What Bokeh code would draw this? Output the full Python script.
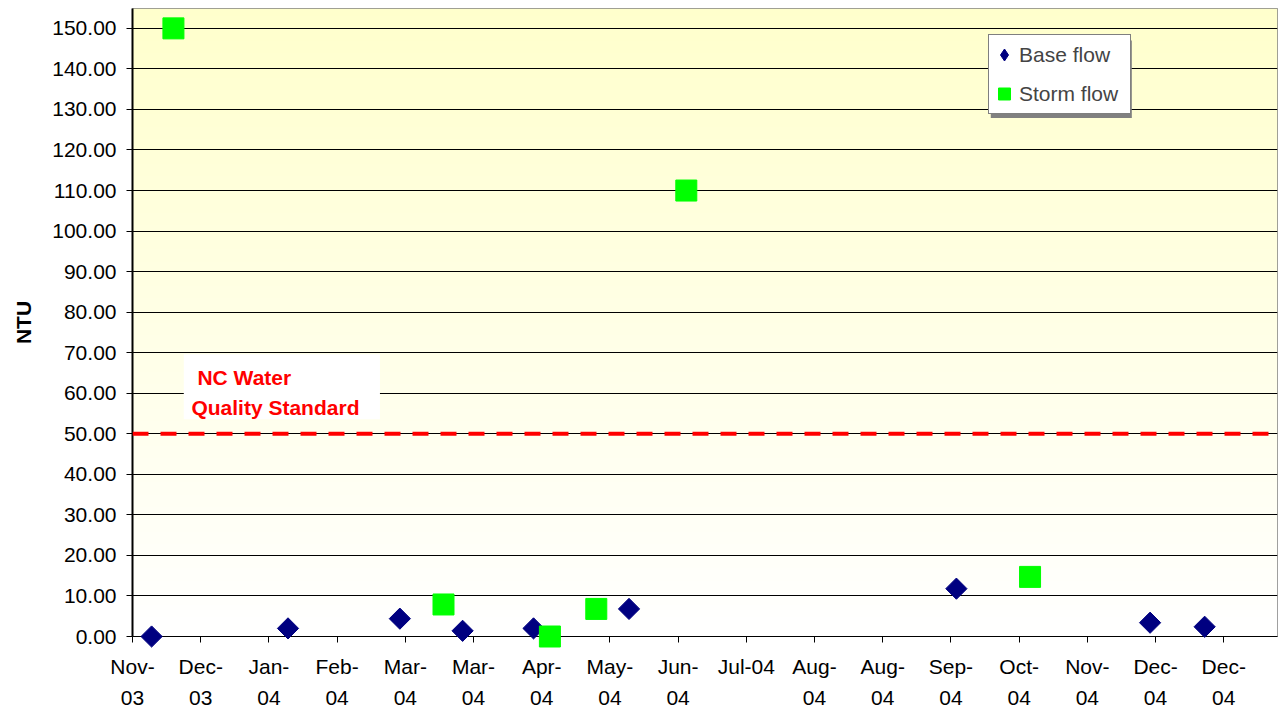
import numpy as np
import pandas as pd
from bokeh.plotting import figure
from bokeh.models import (Range1d, FixedTicker, NumeralTickFormatter, Span, Label,
                          BoxAnnotation, Legend, LegendItem)
from bokeh.embed import file_html
from bokeh.resources import INLINE

# ---------------- data ----------------
AXIS_START = "2003-11-25"          # first category-axis tick date
TICK_STEP_DAYS = 25                # Excel date-axis major unit
AXIS_END_DAYS = 419.7
tick_labels = ["Nov-\n03", "Dec-\n03", "Jan-\n04", "Feb-\n04", "Mar-\n04", "Mar-\n04",
               "Apr-\n04", "May-\n04", "Jun-\n04", "Jul-04", "Aug-\n04", "Aug-\n04",
               "Sep-\n04", "Oct-\n04", "Nov-\n04", "Dec-\n04", "Dec-\n04"]

base_dates = ["2003-12-02", "2004-01-21", "2004-03-02", "2004-03-25", "2004-04-20",
              "2004-05-25", "2004-09-22", "2004-12-02", "2004-12-22"]
base_ntu = [0.0, 2.0, 4.4, 1.4, 2.0, 6.8, 11.8, 3.4, 2.4]

storm_dates = ["2003-12-10", "2004-03-18", "2004-04-26", "2004-05-13", "2004-06-15",
               "2004-10-19"]
storm_ntu = [150.0, 7.9, 0.0, 6.8, 110.0, 14.7]

y_ticks = list(range(0, 151, 10))
Y_MAX = 154.9
standard_ntu = 50
standard_text = ["NC Water", "Quality Standard"]

# ---------------- helpers ----------------
start = pd.Timestamp(AXIS_START)
def to_days(dates):
    return [(pd.Timestamp(d) - start).days for d in dates]

base_x = to_days(base_dates)
storm_x = to_days(storm_dates)
x_ticks = [i * TICK_STEP_DAYS for i in range(len(tick_labels))]

FONT = "Liberation Sans"
FS = "21px"

p = figure(width=1278, height=711, output_backend="svg", toolbar_location=None,
           title=None,
           x_range=Range1d(0, AXIS_END_DAYS), y_range=Range1d(0, Y_MAX),
           min_border_left=132, min_border_right=1, min_border_top=8,
           min_border_bottom=73)

p.background_fill_color = "white"
p.border_fill_color = "white"
p.outline_line_color = "#808080"
p.outline_line_width = 1

# gradient background (light yellow at top -> white at bottom)
n = 256
img = np.zeros((n, 1), dtype=np.uint32)
view = img.view(dtype=np.uint8).reshape((n, 1, 4))
t = np.linspace(0, 1, n)
view[:, 0, 0] = 255
view[:, 0, 1] = 255
view[:, 0, 2] = np.round(255 - 51 * t).astype(np.uint8)
view[:, 0, 3] = 255
p.image_rgba(image=[img], x=0, y=0, dw=AXIS_END_DAYS, dh=Y_MAX, level="image")

# grid
p.xgrid.visible = False
p.ygrid.grid_line_color = "black"
p.ygrid.grid_line_width = 1

# axes
p.xaxis.ticker = FixedTicker(ticks=x_ticks)
p.xaxis.major_label_overrides = {x: lab for x, lab in zip(x_ticks, tick_labels)}
p.yaxis.ticker = FixedTicker(ticks=y_ticks)
p.yaxis.formatter = NumeralTickFormatter(format="0.00")

for ax in (p.xaxis[0], p.yaxis[0]):
    ax.axis_line_color = "black"
    ax.major_tick_line_color = "black"
    ax.major_tick_out = 6
    ax.major_tick_in = 0
    ax.minor_tick_line_color = None
    ax.major_label_text_font = FONT
    ax.major_label_text_font_size = FS
    ax.major_label_text_color = "black"
p.yaxis.axis_line_width = 2
p.xaxis.major_label_standoff = 12
p.xaxis.major_label_text_line_height = 1.35
p.yaxis.major_label_standoff = 10

p.yaxis.axis_label = "NTU"
p.yaxis.axis_label_text_font = FONT
p.yaxis.axis_label_text_font_size = FS
p.yaxis.axis_label_text_font_style = "bold"
p.yaxis.axis_label_text_color = "black"
p.yaxis.axis_label_standoff = 14

# standard line and its label
p.add_layout(Span(location=standard_ntu, dimension="width", line_color="#FF0000",
                  line_width=4, line_dash="16 12"))
p.add_layout(BoxAnnotation(left=18.8, right=90.7, bottom=53.6, top=69.6,
                           fill_color="white", fill_alpha=1, line_color=None))
p.add_layout(Label(x=23.8, y=63.9, text=standard_text[0], text_font=FONT,
                   text_font_size=FS, text_font_style="bold", text_color="#FF0000",
                   text_baseline="alphabetic"))
p.add_layout(Label(x=21.6, y=56.55, text=standard_text[1], text_font=FONT,
                   text_font_size=FS, text_font_style="bold", text_color="#FF0000",
                   text_baseline="alphabetic"))

# data
r_base = p.scatter(base_x, base_ntu, marker="square", angle=np.pi / 4, size=15,
                   fill_color="#000080", line_color="#000080", level="overlay")
r_storm = p.scatter(storm_x, storm_ntu, marker="square", size=21,
                    fill_color="#00FF00", line_color="#00FF00", level="overlay")

# legend key proxies (legend glyphs ignore the marker angle); their single
# point lies outside the visible ranges so only the legend key is drawn
k_base = p.scatter([-1000], [-1000], marker="diamond", fill_color="#000080",
                   line_color="#000080")
k_storm = p.scatter([-1000], [-1000], marker="square", fill_color="#00FF00",
                    line_color="#00FF00")

# legend shadow + legend
p.add_layout(BoxAnnotation(left=314.6, right=366.3, bottom=127.9, top=147.0,
                           fill_color="#808080", fill_alpha=1, line_color=None))
legend = Legend(items=[LegendItem(label="Base flow", renderers=[k_base]),
                       LegendItem(label="Storm flow", renderers=[k_storm])],
                location=(856, 522), orientation="vertical", padding=0, spacing=0,
                margin=0, glyph_width=30, glyph_height=39, label_width=111,
                label_height=39, label_standoff=0,
                label_text_font=FONT, label_text_font_size=FS,
                border_line_color="black", border_line_width=1,
                background_fill_color="white", background_fill_alpha=1)
p.add_layout(legend)

open("out.html", "w").write(file_html(p, INLINE))
